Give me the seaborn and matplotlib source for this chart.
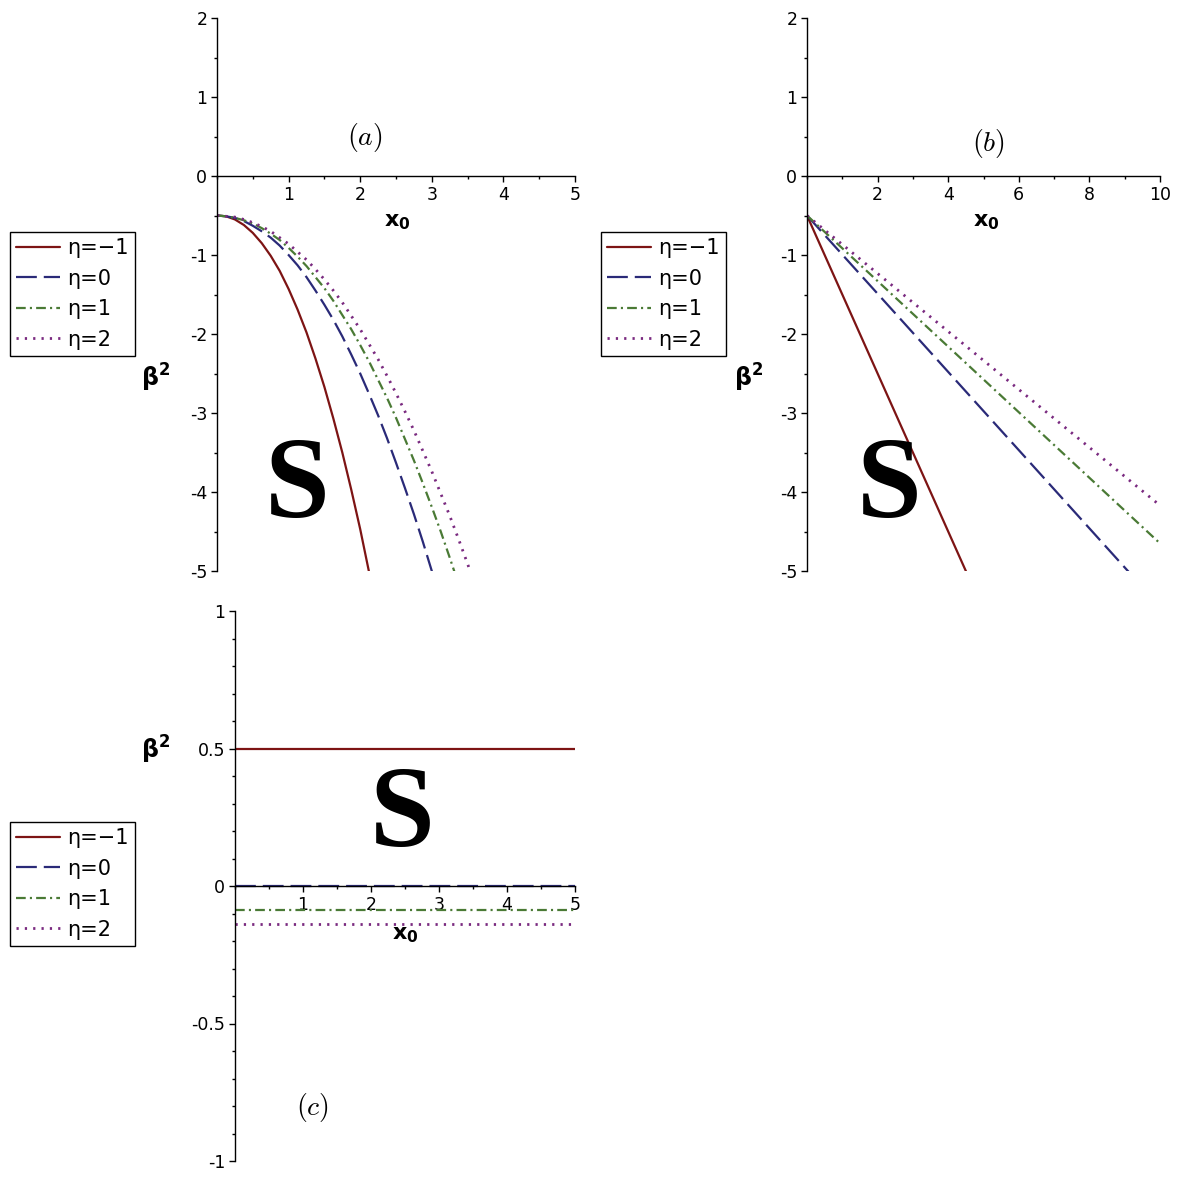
import numpy as np
import pandas as pd
import seaborn as sns
import matplotlib.pyplot as plt
from matplotlib.ticker import MultipleLocator

sns.set_style("white")
plt.rcParams["font.family"] = ["DejaVu Sans"]
plt.rcParams["axes.unicode_minus"] = False
plt.rcParams["lines.scale_dashes"] = False
for key in ("text.color", "axes.labelcolor", "xtick.color", "ytick.color"):
    plt.rcParams[key] = "black"

# eta values and legend labels
etas = ["-1", "0", "1", "2"]
labels = ["\u03b7=\u22121", "\u03b7=0", "\u03b7=1", "\u03b7=2"]
colors = ["#7d1414", "#2a2a78", "#4a7a35", "#7a2a80"]
dash_styles = {"-1": "", "0": (15, 5), "1": (7, 3, 1.5, 3), "2": (1.6, 4.4)}

# panel (a): beta^2 against x0
xa = [0, 0.125, 0.25, 0.375, 0.5, 0.625, 0.75, 0.875, 1.0, 1.125, 1.25, 1.375,
      1.5, 1.625, 1.75, 1.875, 2.0, 2.125, 2.25, 2.375, 2.5, 2.625, 2.75, 2.875,
      3.0, 3.125, 3.25, 3.375, 3.5, 3.625, 3.75]
ya_m1 = [-0.5, -0.51, -0.55, -0.62, -0.72, -0.85, -1.01, -1.20, -1.43, -1.69,
         -1.98, -2.31, -2.67, -3.07, -3.50, -3.97, -4.47, -5.02, -5.60]
ya_0 = [-0.5, -0.51, -0.53, -0.57, -0.63, -0.70, -0.78, -0.88, -1.0, -1.13,
        -1.28, -1.45, -1.63, -1.82, -2.03, -2.26, -2.5, -2.76, -3.03, -3.32,
        -3.63, -3.95, -4.28, -4.63, -5.0, -5.38, -5.78]
ya_1 = [-0.5, -0.51, -0.53, -0.56, -0.60, -0.66, -0.73, -0.81, -0.91, -1.02,
        -1.14, -1.28, -1.42, -1.58, -1.76, -1.94, -2.14, -2.35, -2.58, -2.81,
        -3.06, -3.33, -3.60, -3.89, -4.19, -4.50, -4.83, -5.17, -5.52]
ya_2 = [-0.5, -0.51, -0.52, -0.55, -0.59, -0.64, -0.70, -0.78, -0.86, -0.96,
        -1.06, -1.18, -1.31, -1.45, -1.60, -1.77, -1.94, -2.13, -2.32, -2.53,
        -2.75, -2.98, -3.22, -3.48, -3.74, -4.02, -4.30, -4.60, -4.91, -5.23, -5.56]

# panel (b): straight lines from x0=0 to x0=10
xb = [0, 10]
yb_m1 = [-0.5, -10.5]
yb_0 = [-0.5, -5.45]
yb_1 = [-0.5, -4.65]
yb_2 = [-0.5, -4.17]

# panel (c): constant levels
xc = [0, 5]
yc_m1 = [0.5, 0.5]
yc_0 = [0.0, 0.0]
yc_1 = [-0.087, -0.087]
yc_2 = [-0.138, -0.138]


def long_form(x, series):
    frames = []
    for eta, ys in zip(etas, series):
        frames.append(pd.DataFrame({"x": x[:len(ys)], "y": ys, "eta": eta}))
    return pd.concat(frames, ignore_index=True)


df_a = long_form(xa, [ya_m1, ya_0, ya_1, ya_2])
df_b = long_form(xb, [yb_m1, yb_0, yb_1, yb_2])
df_c = long_form(xc, [yc_m1, yc_0, yc_1, yc_2])

W = 1181.0
fx = lambda px: px / W
fy = lambda py: 1 - py / W

fig = plt.figure(figsize=(11.81, 11.81), dpi=100)
ax_a = fig.add_axes([fx(217), fy(571), 358 / W, 553 / W])
ax_b = fig.add_axes([fx(807), fy(571), 353 / W, 553 / W])
ax_c = fig.add_axes([fx(235), fy(1161), 340 / W, 550 / W])

palette = dict(zip(etas, colors))


def draw(ax, df, xlim, ylim, xmaj, xmin, ymaj, ymin):
    sns.lineplot(data=df, x="x", y="y", hue="eta", style="eta", hue_order=etas,
                 style_order=etas, palette=palette, dashes=dash_styles,
                 linewidth=1.6, legend=False, sort=False, ax=ax)
    lines = ax.get_lines()[:4]
    lines[3].set_linewidth(2.0)
    ax.set_xlim(*xlim)
    ax.set_ylim(*ylim)
    ax.spines["left"].set_position(("data", 0))
    ax.spines["bottom"].set_position(("data", 0))
    ax.spines["top"].set_visible(False)
    ax.spines["right"].set_visible(False)
    for s in ("left", "bottom"):
        ax.spines[s].set_linewidth(1.0)
        ax.spines[s].set_color("black")
    ax.set_xticks(xmaj)
    ax.xaxis.set_minor_locator(MultipleLocator(xmin))
    ax.set_yticks(ymaj)
    ax.yaxis.set_minor_locator(MultipleLocator(ymin))
    ax.tick_params(which="major", direction="out", length=4, width=1,
                   labelsize=12.5, pad=3, bottom=True, left=True)
    ax.tick_params(which="minor", direction="out", length=2.5, width=1,
                   bottom=True, left=True)
    ax.set_xlabel("")
    ax.set_ylabel("")
    ax.patch.set_alpha(0)
    return lines


h_a = draw(ax_a, df_a, (0, 5), (-5, 2), [1, 2, 3, 4, 5], 0.5, list(range(-5, 3)), 0.5)
h_b = draw(ax_b, df_b, (0, 10), (-5, 2), [2, 4, 6, 8, 10], 1, list(range(-5, 3)), 0.5)
h_c = draw(ax_c, df_c, (0, 5), (-1, 1), [1, 2, 3, 4, 5], 0.5, [-1, -0.5, 0, 0.5, 1], 0.1)
ax_c.set_yticklabels(["-1", "-0.5", "0", "0.5", "1"])

for handles, (lx, ly) in [(h_a, (10, 232)), (h_b, (601, 232)), (h_c, (10, 822))]:
    leg = fig.legend(handles, labels, loc="upper left",
                     bbox_to_anchor=(fx(lx), fy(ly)), bbox_transform=fig.transFigure,
                     frameon=True, fancybox=False, edgecolor="black", framealpha=1,
                     borderaxespad=0, fontsize=15, handlelength=2.1,
                     labelspacing=0.5, borderpad=0.3, handletextpad=0.35)
    leg.get_frame().set_linewidth(1.0)

# axis labels
for px, py in [(156, 378), (749, 378), (156, 750)]:
    fig.text(fx(px), fy(py), r"$\mathbf{\beta^2}$", fontsize=17, ha="center",
             va="center", math_fontfamily="dejavusans")
for px, py in [(397, 222), (986, 222), (405, 935)]:
    fig.text(fx(px), fy(py), r"$\mathbf{x_0}$", fontsize=16, ha="center",
             va="center", math_fontfamily="dejavusans")

# panel tags
for txt, px, py in [("$(a)$", 365, 138), ("$(b)$", 988, 143), ("$(c)$", 312, 1107)]:
    fig.text(fx(px), fy(py), txt, fontsize=20, ha="center", va="center",
             math_fontfamily="cm")

# big S marks
for px, py in [(297, 483), (889, 483), (402, 812)]:
    fig.text(fx(px), fy(py + 6), "S", fontsize=84, fontweight="bold", ha="center",
             va="center", color="black", family=["Liberation Serif", "DejaVu Serif"])

fig.savefig("out.png", dpi=100, facecolor="white")
